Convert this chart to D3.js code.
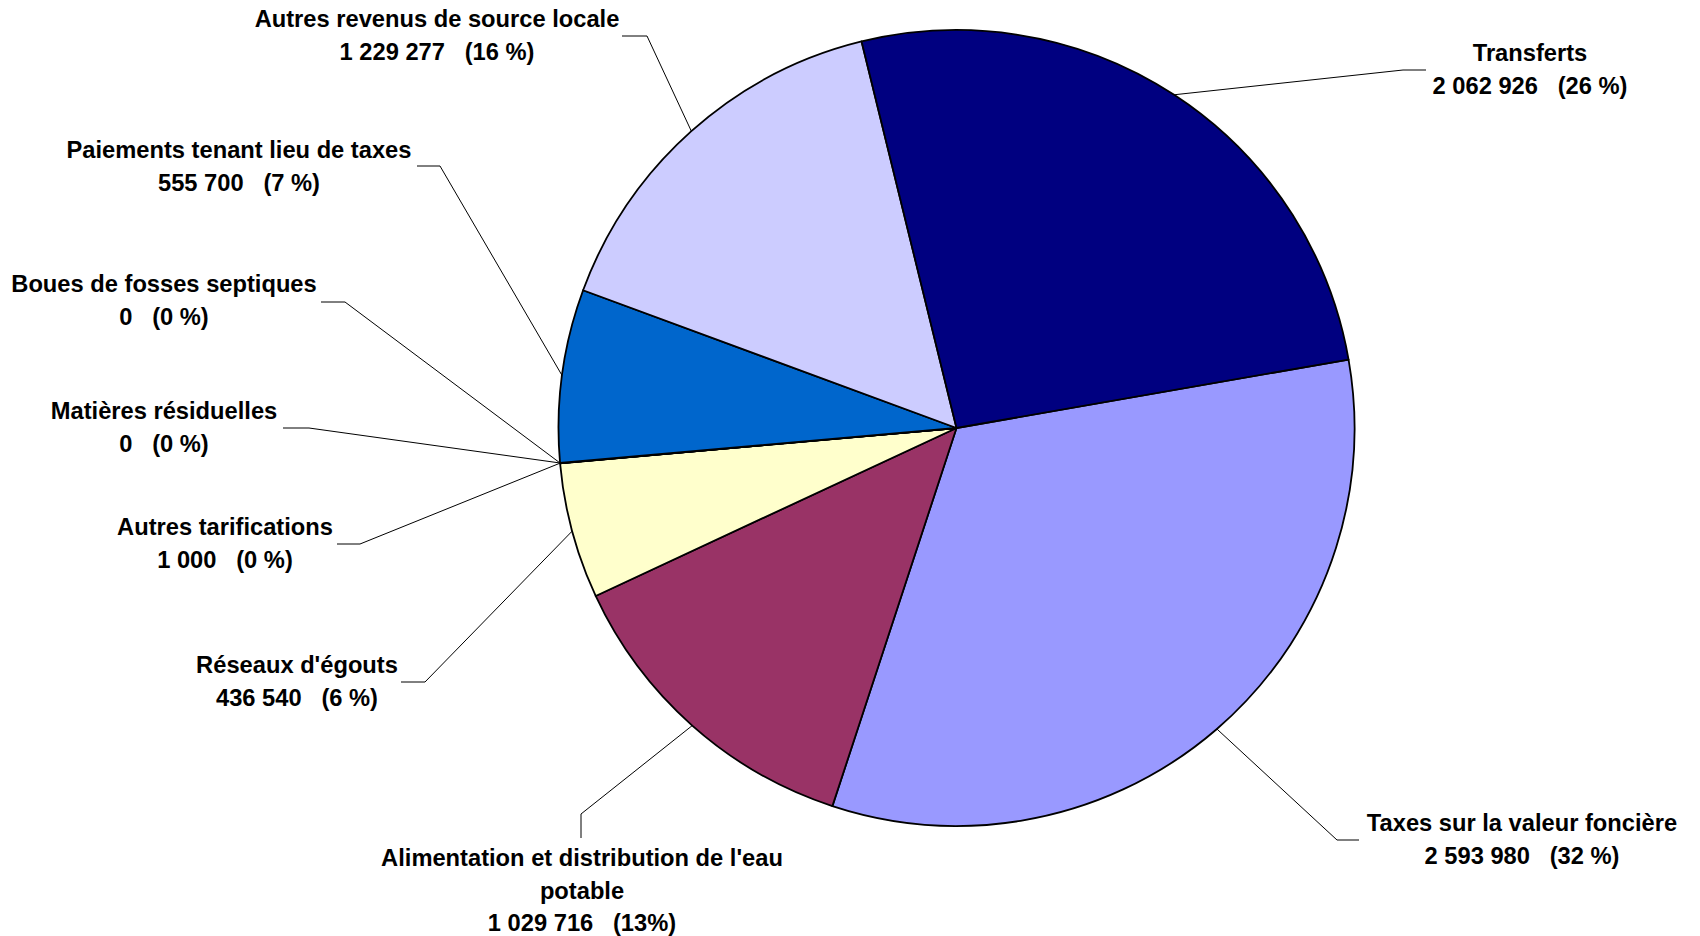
<!DOCTYPE html>
<html>
<head>
<meta charset="utf-8">
<script src="https://cdn.jsdelivr.net/npm/d3@7/dist/d3.min.js"></script>
<style>
  html, body { margin: 0; padding: 0; background: #ffffff; }
  svg { display: block; }
  text { font-family: "Liberation Sans", Arial, sans-serif; font-weight: bold; white-space: pre; }
</style>
</head>
<body>
<svg id="chart" width="1700" height="936"></svg>
<script>
// ---- Data ----
const categories = [
  "Taxes sur la valeur foncière",
  "Alimentation et distribution de l'eau potable",
  "Réseaux d'égouts",
  "Autres tarifications",
  "Matières résiduelles",
  "Boues de fosses septiques",
  "Paiements tenant lieu de taxes",
  "Autres revenus de source locale",
  "Transferts"
];
const values = [2593980, 1029716, 436540, 1000, 0, 0, 555700, 1229277, 2062926];
const percentLabels = ["32 %", "13%", "6 %", "0 %", "0 %", "0 %", "7 %", "16 %", "26 %"];
const colors = ["#9999FF", "#993366", "#FFFFCC", "#CCFFFF", "#660066", "#FF8080", "#0066CC", "#CCCCFF", "#000080"];

// ---- Layout ----
const W = 1700, H = 936;
const cx = 956.5, cy = 428, R = 398;
const startDeg = 80.1;
const fontSize = 23.7, lineH = 32.5;
// label anchor: centre x, first baseline y, leader hook points (label side)
const labelLayout = [
  { x: 1522, y: 831, hook: [[1359, 840], [1337, 840]] },
  { x: 582,  y: 866, wrapAt: "l'eau", hook: [[581, 838], [581, 814]] },
  { x: 297,  y: 673, hook: [[401, 682], [425, 682]] },
  { x: 225,  y: 535, hook: [[337, 544], [360, 544]] },
  { x: 164,  y: 419, hook: [[283, 428], [309, 428]] },
  { x: 164,  y: 292, hook: [[321, 302], [345, 302]] },
  { x: 239,  y: 158, hook: [[417, 166], [440, 166]] },
  { x: 437,  y: 27,  hook: [[622, 36], [647, 36]] },
  { x: 1530, y: 61,  hook: [[1426, 70], [1403, 70]] }
];

const fr = d3.formatLocale({ decimal: ",", thousands: " ", grouping: [3], currency: ["", " $"] });
const fmt = fr.format(",d");

const svg = d3.select("#chart");
const g = svg.append("g").attr("transform", `translate(${cx},${cy})`);

const pie = d3.pie().sort(null).value(d => d)
  .startAngle(startDeg * Math.PI / 180)
  .endAngle(startDeg * Math.PI / 180 + 2 * Math.PI);
const arcs = pie(values);
const arc = d3.arc().innerRadius(0).outerRadius(R);

g.selectAll("path.slice")
  .data(arcs)
  .join("path")
  .attr("class", "slice")
  .attr("d", arc)
  .attr("fill", (d, i) => colors[i])
  .attr("stroke", "#000")
  .attr("stroke-width", 1.8)
  .attr("stroke-linejoin", "round");

// leader lines
const line = d3.line();
arcs.forEach((a, i) => {
  const mid = (a.startAngle + a.endAngle) / 2;
  const px = cx + R * Math.sin(mid);
  const py = cy - R * Math.cos(mid);
  const L = labelLayout[i];
  const pts = [...L.hook, [px, py]];
  svg.append("path")
    .attr("d", line(pts))
    .attr("fill", "none")
    .attr("stroke", "#000")
    .attr("stroke-width", 1);
});

// labels
categories.forEach((name, i) => {
  const L = labelLayout[i];
  let nameLines = [name];
  if (L.wrapAt) {
    const k = name.indexOf(L.wrapAt) + L.wrapAt.length;
    nameLines = [name.slice(0, k), name.slice(k).trim()];
  }
  const allLines = [...nameLines, fmt(values[i]) + "   (" + percentLabels[i] + ")"];
  const t = svg.append("text")
    .attr("text-anchor", "middle")
    .attr("font-size", fontSize)
    .attr("fill", "#000");
  allLines.forEach((s, j) => {
    t.append("tspan").attr("x", L.x).attr("y", L.y + j * lineH).text(s);
  });
});
</script>
</body>
</html>
